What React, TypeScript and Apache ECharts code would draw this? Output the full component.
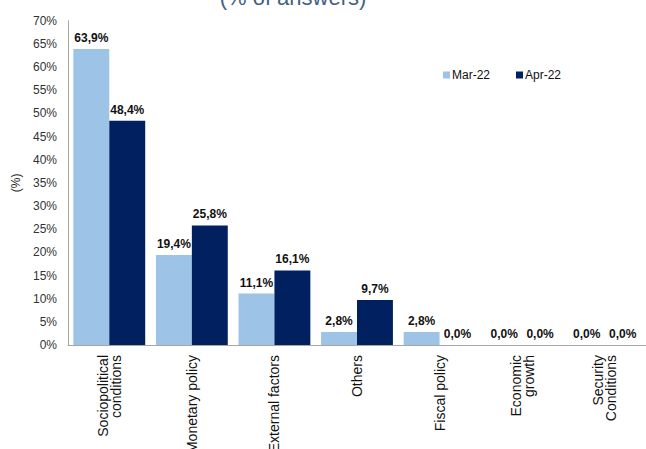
import React, { useEffect, useRef } from "react";
import * as echarts from "echarts";

const categories = [
  "Sociopolitical\nconditions",
  "Monetary policy",
  "External factors",
  "Others",
  "Fiscal policy",
  "Economic\ngrowth",
  "Security\nConditions",
];
const mar22 = [63.9, 19.4, 11.1, 2.8, 2.8, 0.0, 0.0];
const apr22 = [48.4, 25.8, 16.1, 9.7, 0.0, 0.0, 0.0];
const yTicks = [0, 5, 10, 15, 20, 25, 30, 35, 40, 45, 50, 55, 60, 65, 70];
const seriesNames = ["Mar-22", "Apr-22"];
const seriesColors = ["#9dc3e6", "#002060"];
const titleText = "(% of answers)";

const FONT = "'Liberation Sans', Arial, sans-serif";

export default function App() {
  const ref = useRef<HTMLDivElement>(null);
  useEffect(() => {
    if (!ref.current) return;
    const chart = echarts.init(ref.current, null, { renderer: "svg" });
    const fmt = (v: number) => v.toFixed(1).replace(".", ",") + "%";
    const barLabel = {
      show: true,
      position: "top",
      distance: 5,
      fontSize: 12,
      fontWeight: "bold",
      color: "#111",
      fontFamily: FONT,
      formatter: (p: any) => fmt(p.value),
    };
    chart.setOption({
      animation: false,
      textStyle: { fontFamily: FONT },
      graphic: [
        {
          type: "text",
          x: 293,
          y: 8,
          style: {
            text: titleText,
            fontSize: 22,
            fontFamily: FONT,
            fill: "#44607f",
            textAlign: "center",
            textVerticalAlign: "bottom",
          },
        },
      ],
      legend: {
        data: seriesNames,
        left: 438,
        top: 64,
        itemWidth: 7,
        itemHeight: 7,
        itemGap: 26,
        icon: "rect",
        textStyle: {
          fontSize: 12,
          color: "#111",
          fontFamily: FONT,
          padding: [0, 0, 0, -3],
        },
      },
      grid: {
        left: 68,
        right: 0,
        top: 20.7,
        bottom: 104,
        containLabel: false,
        outerBoundsMode: "none",
      },
      xAxis: {
        type: "category",
        data: categories,
        axisLine: { show: true, lineStyle: { color: "#a6a6a6", width: 1 } },
        axisTick: { show: false },
        axisLabel: {
          rotate: 90,
          interval: 0,
          margin: 10,
          fontSize: 14,
          lineHeight: 13,
          color: "#111",
          fontFamily: FONT,
          align: "right",
        },
      },
      yAxis: {
        type: "value",
        min: 0,
        max: 70,
        interval: 5,
        name: "(%)",
        nameLocation: "middle",
        nameRotate: 90,
        nameGap: 44,
        nameTextStyle: { fontSize: 12, color: "#222", fontFamily: FONT },
        axisLine: { show: true, lineStyle: { color: "#a6a6a6", width: 1 } },
        axisTick: { show: false },
        splitLine: { show: false },
        axisLabel: {
          fontSize: 12,
          color: "#333",
          margin: 11,
          fontFamily: FONT,
          formatter: (v: number) => (yTicks.includes(v) ? v + "%" : ""),
        },
      },
      series: [
        {
          name: seriesNames[0],
          type: "bar",
          data: mar22,
          itemStyle: { color: seriesColors[0] },
          barGap: "0%",
          barCategoryGap: "13%",
          label: barLabel,
        },
        {
          name: seriesNames[1],
          type: "bar",
          data: apr22,
          itemStyle: { color: seriesColors[1] },
          barGap: "0%",
          barCategoryGap: "13%",
          label: barLabel,
        },
      ],
    });
    return () => chart.dispose();
  }, []);
  return (
    <div
      ref={ref}
      style={{ position: "absolute", left: 0, top: 0, width: 646, height: 449, background: "#fff" }}
    />
  );
}
